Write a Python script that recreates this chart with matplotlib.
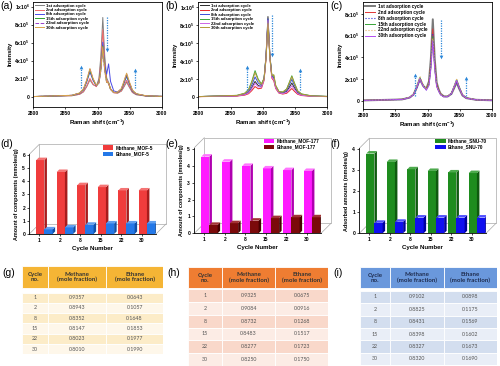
import matplotlib.pyplot as plt
from matplotlib.patches import Polygon, Rectangle, Patch

plt.rcParams['font.family'] = ['Liberation Sans', 'DejaVu Sans']
plt.rcParams['mathtext.default'] = 'regular'

# ---------------- data ----------------
raman_shift = [2800, 2860, 2872, 2878, 2883, 2888, 2893, 2898, 2902, 2905, 2908, 2911, 2914,
               2917, 2920, 2925, 2931, 2937, 2941, 2945, 2949, 2954, 2960, 2975, 3000]
cycle_labels = ['1st adsorption cycle', '2nd adsorption cycle', '8th adsorption cycle',
                '15th adsorption cycle', '22nd adsorption cycle', '30th adsorption cycle']

# intensities in units of 1e5 (MOF-5)
spec_a = [
    [0.02, 0.11, 0.27, 0.54, 1.11, 1.86, 1.33, 1.18, 2.02, 4.54, 8.81, 4.54, 2.10, 1.59, 0.88, 0.46, 0.40, 0.63, 1.11, 1.63, 1.08, 0.47, 0.22, 0.08, 0.03],
    [0.02, 0.12, 0.29, 0.58, 1.21, 2.03, 1.39, 1.12, 1.77, 3.86, 7.44, 3.85, 1.83, 1.46, 0.82, 0.44, 0.41, 0.68, 1.23, 1.82, 1.20, 0.52, 0.25, 0.08, 0.03],
    [0.02, 0.15, 0.38, 0.77, 1.64, 2.76, 1.80, 1.23, 1.64, 3.25, 6.07, 3.45, 2.51, 3.65, 1.71, 0.65, 0.52, 0.83, 1.52, 2.24, 1.48, 0.64, 0.30, 0.10, 0.04],
    [0.02, 0.15, 0.40, 0.81, 1.75, 2.94, 1.89, 1.23, 1.55, 3.04, 5.64, 3.01, 1.60, 1.53, 0.84, 0.47, 0.48, 0.86, 1.62, 2.42, 1.60, 0.69, 0.32, 0.10, 0.04],
    [0.02, 0.16, 0.41, 0.84, 1.81, 3.04, 1.94, 1.23, 1.51, 2.90, 5.35, 2.87, 1.55, 1.51, 0.84, 0.47, 0.49, 0.90, 1.69, 2.52, 1.66, 0.71, 0.33, 0.11, 0.04],
    [0.02, 0.16, 0.42, 0.87, 1.87, 3.14, 2.01, 1.28, 1.57, 3.02, 5.56, 2.98, 1.60, 1.54, 0.85, 0.48, 0.51, 0.93, 1.76, 2.62, 1.73, 0.74, 0.34, 0.11, 0.04],
]
# MOF-177
spec_b = [
    [0.02, 0.11, 0.26, 0.50, 1.03, 1.71, 1.24, 1.16, 2.03, 4.59, 8.94, 4.65, 2.31, 2.09, 1.08, 0.50, 0.41, 0.60, 1.05, 1.53, 1.01, 0.45, 0.21, 0.07, 0.03],
    [0.01, 0.08, 0.18, 0.34, 0.69, 1.14, 0.89, 0.96, 1.83, 4.26, 8.36, 4.32, 2.08, 1.79, 0.92, 0.41, 0.30, 0.39, 0.64, 0.92, 0.61, 0.28, 0.14, 0.05, 0.02],
    [0.02, 0.13, 0.32, 0.63, 1.32, 2.21, 1.53, 1.27, 2.05, 4.51, 8.69, 4.55, 2.33, 2.19, 1.14, 0.54, 0.47, 0.73, 1.32, 1.94, 1.28, 0.56, 0.26, 0.09, 0.03],
    [0.02, 0.16, 0.40, 0.82, 1.73, 2.91, 1.94, 1.43, 2.09, 4.40, 8.38, 4.44, 2.38, 2.39, 1.24, 0.59, 0.53, 0.87, 1.59, 2.34, 1.55, 0.67, 0.32, 0.11, 0.04],
    [0.02, 0.10, 0.23, 0.44, 0.90, 1.50, 1.11, 1.07, 1.91, 4.36, 8.51, 4.41, 2.17, 1.93, 1.00, 0.45, 0.35, 0.49, 0.85, 1.23, 0.81, 0.36, 0.17, 0.06, 0.02],
    [0.02, 0.15, 0.38, 0.76, 1.61, 2.70, 1.81, 1.37, 2.02, 4.28, 8.16, 4.34, 2.37, 2.46, 1.26, 0.58, 0.52, 0.84, 1.52, 2.24, 1.48, 0.64, 0.30, 0.10, 0.04],
]
# SNU-70
spec_c = [
    [0.02, 0.11, 0.28, 0.56, 1.18, 1.98, 1.36, 1.11, 1.77, 3.89, 7.50, 3.84, 1.68, 1.06, 0.65, 0.40, 0.38, 0.62, 1.13, 1.67, 1.10, 0.48, 0.23, 0.08, 0.03],
    [0.02, 0.12, 0.29, 0.58, 1.23, 2.06, 1.39, 1.06, 1.61, 3.45, 6.61, 3.40, 1.51, 0.99, 0.61, 0.39, 0.39, 0.68, 1.26, 1.87, 1.23, 0.53, 0.25, 0.08, 0.03],
    [0.02, 0.11, 0.27, 0.55, 1.16, 1.95, 1.31, 0.99, 1.49, 3.19, 6.10, 3.14, 1.41, 0.93, 0.57, 0.36, 0.37, 0.64, 1.18, 1.76, 1.16, 0.50, 0.23, 0.08, 0.03],
    [0.02, 0.12, 0.30, 0.60, 1.28, 2.14, 1.42, 1.03, 1.49, 3.12, 5.92, 3.06, 1.38, 0.92, 0.57, 0.37, 0.40, 0.70, 1.32, 1.96, 1.29, 0.56, 0.26, 0.08, 0.03],
    [0.02, 0.12, 0.31, 0.63, 1.33, 2.24, 1.47, 1.04, 1.46, 3.03, 5.73, 2.96, 1.35, 0.91, 0.57, 0.37, 0.40, 0.70, 1.32, 1.96, 1.29, 0.56, 0.26, 0.09, 0.03],
    [0.02, 0.11, 0.28, 0.57, 1.21, 2.03, 1.34, 0.97, 1.39, 2.90, 5.51, 2.85, 1.29, 0.88, 0.54, 0.35, 0.37, 0.67, 1.25, 1.86, 1.22, 0.53, 0.24, 0.08, 0.03],
]
# trend arrows: (shift, from, to) in 1e5 units
arrows_a = [(2874, 1.0, 3.3), (2915, 8.9, 5.2), (2958, 1.0, 3.0)]
arrows_b = [(2875, 0.8, 3.3), (2915, 9.1, 4.6), (2958, 0.8, 3.0)]
arrows_c = [(2880, 0.4, 2.4), (2921, 7.4, 4.0), (2960, 0.4, 2.1)]

cycles = ['1', '2', '8', '15', '22', '30']
mof5_methane = [5.6, 4.7, 3.7, 3.55, 3.3, 3.3]
mof5_ethane = [0.35, 0.5, 0.7, 0.8, 0.8, 0.8]
mof177_methane = [4.55, 4.25, 4.0, 3.85, 3.75, 3.7]
mof177_ethane = [0.5, 0.6, 0.75, 0.9, 0.95, 0.95]
snu70_methane = [3.8, 3.4, 3.05, 2.97, 2.9, 2.87]
snu70_ethane = [0.5, 0.55, 0.75, 0.75, 0.75, 0.75]

frac_g_methane = [0.9357, 0.8943, 0.8352, 0.8147, 0.8023, 0.8010]
frac_g_ethane = [0.0643, 0.1057, 0.1648, 0.1853, 0.1977, 0.1990]
frac_h_methane = [0.9325, 0.9084, 0.8732, 0.8483, 0.8277, 0.8250]
frac_h_ethane = [0.0675, 0.0916, 0.1268, 0.1517, 0.1723, 0.1750]
frac_i_methane = [0.9102, 0.8825, 0.8431, 0.8398, 0.8327, 0.8320]
frac_i_ethane = [0.0898, 0.1175, 0.1569, 0.1602, 0.1673, 0.1690]

# ---------------- figure ----------------
W, H = 500, 366
fig = plt.figure(figsize=(W / 100, H / 100), dpi=100)
ARROW = '#2a86d8'


def px_axes(x0, y0, x1, y1):
    return fig.add_axes([x0 / W, 1 - y1 / H, (x1 - x0) / W, (y1 - y0) / H])


def e5_label(t):
    if t == 0:
        return '0'
    if t == 10:
        return '1x10$^6$'
    return f'{t}x10$^5$'


def spectrum_panel(box, spectra, colors, styles, widths, ylim, yticks, arrows, leg, letter):
    ax = px_axes(*box)
    for vals, c, ls, lw, lab in zip(spectra, colors, styles, widths, cycle_labels):
        ax.plot(raman_shift, vals, color=c, ls=ls, lw=lw, label=lab)
    for x, a0, a1 in arrows:
        ax.plot([x, x], [a0, a1], ls=(0, (1, 1)), color=ARROW, lw=0.9)
        ax.plot(x, a1, marker='^' if a1 > a0 else 'v', ms=2.6, color=ARROW, mew=0)
    ax.set_xlim(2800, 3000)
    ax.set_ylim(*ylim)
    ax.set_xticks([2800, 2850, 2900, 2950, 3000])
    ax.set_yticks(yticks)
    ax.set_yticklabels([e5_label(t) for t in yticks])
    ax.tick_params(labelsize=3.6, length=1.5, width=0.5, pad=1.2)
    for lab in ax.get_xticklabels() + ax.get_yticklabels():
        lab.set_fontweight('bold')
    for s in ax.spines.values():
        s.set_linewidth(0.6)
    ax.set_xlabel('Raman shift (cm$^{-1}$)', fontsize=4.4, fontweight='bold', labelpad=1.5)
    ax.set_ylabel('Intensity', fontsize=4.2, fontweight='bold', labelpad=1.5)
    fs, sp = leg
    ax.legend(loc='upper left', frameon=False, prop={'size': fs, 'weight': 'bold'},
              handlelength=2.1, labelspacing=sp, borderaxespad=0.35, borderpad=0.1,
              handletextpad=0.6)
    fig.text((box[0] - 33) / W, 1 - 9 / H, letter, fontsize=7.5)
    return ax


spectrum_panel((33.3, 1.7, 162, 107), spec_a,
               ['#808080', '#ee6a6a', '#4a4ae6', '#2f9e2f', '#9a3fc8', '#dca44a'],
               ['-', '-', '-', '-', '--', '-'], [0.7] * 6,
               (-1.14, 10.56), [0, 2, 4, 6, 8, 10], arrows_a, (3.0, 0.1), '(a)')
spectrum_panel((198.3, 2, 327.3, 107), spec_b,
               ['#2b2b2b', '#e82828', '#3a4fd8', '#3aa63a', '#cc66e6', '#b49a38'],
               ['-'] * 6, [0.7] * 6,
               (-1.14, 10.56), [0, 2, 4, 6, 8, 10], arrows_b, (3.0, 0.1), '(b)')
spectrum_panel((363.3, 1.7, 492, 109), spec_c,
               ['#7a7a7a', '#e03636', '#2f2fd6', '#36a336', '#e6b46a', '#b24cf0'],
               ['-', '-', ':', '-', ':', '-'], [1.4, 0.7, 0.8, 0.7, 0.8, 0.7],
               (-0.77, 9.12), [0, 2, 4, 6, 8], arrows_c, (3.3, 0.2), '(c)')


def draw_bar(ax, left, width, height, shades, ddx, ddy):
    front, side, top = shades
    ax.add_patch(Rectangle((left, 0), width, height, fc=front, ec='none', zorder=3))
    ax.add_patch(Polygon([(left + width, 0), (left + width + ddx, ddy),
                          (left + width + ddx, height + ddy), (left + width, height)],
                         closed=True, fc=side, ec='none', zorder=3))
    ax.add_patch(Polygon([(left, height), (left + width, height),
                          (left + width + ddx, height + ddy), (left + ddx, height + ddy)],
                         closed=True, fc=top, ec='none', zorder=3))


def bar_panel(box, methane, ethane, ytop, yticks, shades_m, shades_e, names, ylabel, letter, leg_xy):
    x0, y0, x1, y1 = box
    ax = px_axes(x0, y0, x1, y1)
    ax.set_facecolor('none')
    step = 20.5
    xmin = -10 / step
    xmax = xmin + (x1 - x0) / step
    ax.set_xlim(xmin, xmax)
    ax.set_ylim(0, ytop)
    ppy = (y1 - y0) / ytop
    ddx, ddy = 2.5 / step, 2.5 / ppy
    for i, (m, e) in enumerate(zip(methane, ethane)):
        draw_bar(ax, i - 0.15, 0.4, m, shades_m, ddx, ddy)
        draw_bar(ax, i + 0.25, 0.4, e, shades_e, ddx, ddy)
    # back wall of the 3D box
    wx, wy = 10 / step, 10 / ppy
    wall = dict(color='#a8a8a8', lw=0.5, clip_on=False, zorder=1)
    ax.plot([xmin + wx, xmax + wx, xmax + wx, xmin + wx, xmin + wx],
            [wy, wy, ytop + wy, ytop + wy, wy], **wall)
    ax.plot([xmin, xmin + wx], [ytop, ytop + wy], **wall)
    ax.plot([xmax, xmax + wx], [0, wy], **wall)
    ax.plot([xmin, xmin + wx], [0, wy], **wall)
    for s in ['top', 'right']:
        ax.spines[s].set_visible(False)
    for s in ['left', 'bottom']:
        ax.spines[s].set_linewidth(0.6)
    ax.set_xticks(range(len(cycles)))
    ax.set_xticklabels(cycles)
    ax.set_yticks(yticks)
    ax.tick_params(labelsize=3.6, length=1.5, width=0.5, pad=1.5)
    for lab in ax.get_xticklabels() + ax.get_yticklabels():
        lab.set_fontweight('bold')
    ax.set_xlabel('Cycle Number', fontsize=4.4, fontweight='bold', labelpad=2)
    ax.set_ylabel(ylabel, fontsize=3.9, fontweight='bold', labelpad=2)
    ax.legend(handles=[Patch(fc=shades_m[0]), Patch(fc=shades_e[0])], labels=names,
              loc='upper left', bbox_to_anchor=leg_xy, frameon=False,
              prop={'size': 3.4, 'weight': 'bold'}, handlelength=2.2, handleheight=1.0,
              labelspacing=0.25, handletextpad=0.5, borderaxespad=0, borderpad=0)
    fig.text((x0 - 29) / W, 1 - 147 / H, letter, fontsize=7.5)
    return ax


bar_panel((29.3, 154.3, 156, 234), mof5_methane, mof5_ethane, 6.04, range(7),
          ('#f03c3c', '#a81c1c', '#f57474'), ('#2478e8', '#1050a8', '#5f9ff0'),
          ['Methane_MOF-5', 'Ethane_MOF-5'], 'Amount of components (mmoles/g)', '(d)',
          (0.58, 1.115))
bar_panel((194.3, 147.7, 321, 233.3), mof177_methane, mof177_ethane, 5.08, range(6),
          ('#ff1aff', '#b000b0', '#ff74ff'), ('#7b0a0a', '#480000', '#a23434'),
          ['Methane_MOF-177', 'Ethane_MOF-177'], 'Amount of components (mmoles/g)', '(e)',
          (0.55, 1.11))
bar_panel((359.3, 148.3, 486, 233.3), snu70_methane, snu70_ethane, 4.05, range(5),
          ('#1e8c1e', '#0f5a0f', '#4caa4c'), ('#1010f0', '#0000a0', '#5050ff'),
          ['Methane_SNU-70', 'Ethane_SNU-70'], 'Adsorbed amounts (mmoles/g)', '(f)',
          (0.6, 1.115))


def draw_table(x0, y0, x1, edges, head_h, gap, row_h, head_fc, row_fcs, head_tc,
               methane, ethane, letter, lx):
    y1 = y0 + head_h + gap + row_h * len(cycles)
    ax = px_axes(x0, y0, x1, y1)
    ax.set_xlim(x0, x1)
    ax.set_ylim(y1, y0)
    ax.axis('off')
    cols = [x0] + edges + [x1]
    heads = ['Cycle\nno.', 'Methane\n(mole fraction)', 'Ethane\n(mole fraction)']
    for k in range(3):
        ax.add_patch(Rectangle((cols[k], y0), cols[k + 1] - cols[k], head_h,
                               fc=head_fc, ec='white', lw=0.6))
        ax.text((cols[k] + cols[k + 1]) / 2, y0 + head_h / 2, heads[k], ha='center',
                va='center', fontsize=4.4, fontweight='bold', color=head_tc,
                linespacing=1.0, family='Lato')
    for r, row in enumerate(zip(cycles, methane, ethane)):
        top = y0 + head_h + gap + r * row_h
        cells = [row[0], f'{row[1]:.4f}', f'{row[2]:.4f}']
        for k in range(3):
            ax.add_patch(Rectangle((cols[k], top), cols[k + 1] - cols[k], row_h,
                                   fc=row_fcs[r % 2], ec='white', lw=0.6))
            ax.text((cols[k] + cols[k + 1]) / 2, top + row_h / 2, cells[k], ha='center',
                    va='center', fontsize=3.8, color='#555555', family='Lato')
    fig.text(lx / W, 1 - 276 / H, letter, fontsize=7.5)


draw_table(21.7, 266, 163.3, [48.3, 106], 22, 4.5, 10.3, '#f5b535',
           ['#fcecc8', '#fef7ea'], '#333333', frac_g_methane, frac_g_ethane, '(g)', 2)
draw_table(187.7, 266.7, 328.3, [222.3, 275], 21.6, 0.8, 12.8, '#ef7d32',
           ['#f9d8ca', '#fcece5'], '#333333', frac_h_methane, frac_h_ethane, '(h)', 167)
draw_table(360, 266.7, 496.7, [390, 444.3], 21.6, 2.5, 12.4, '#6a98dc',
           ['#d3deef', '#e9eef7'], '#1f2d50', frac_i_methane, frac_i_ethane, '(i)', 333)

fig.savefig('out.png', dpi=100)
